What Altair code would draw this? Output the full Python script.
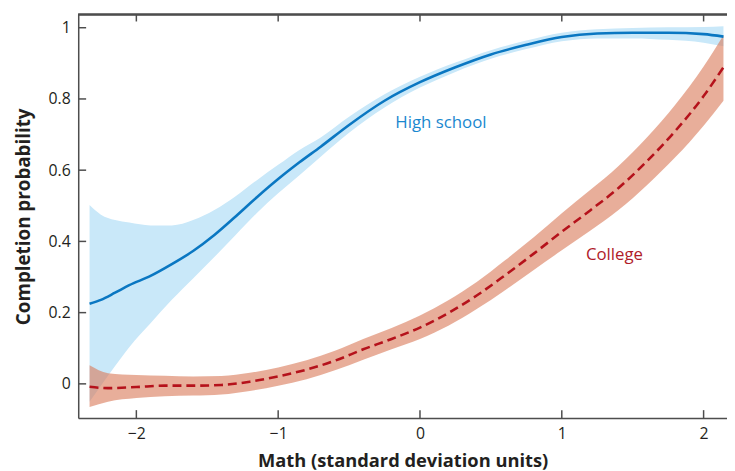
import altair as alt
import pandas as pd

# ---- data ----
hs_x = [-2.33, -2.25, -2.15, -2.05, -1.9, -1.75, -1.6, -1.45, -1.3, -1.15, -1.0, -0.85,
        -0.7, -0.5, -0.25, 0.0, 0.25, 0.5, 0.75, 1.0, 1.25, 1.5, 1.75, 2.0, 2.14]
hs_mid = [0.225, 0.236, 0.256, 0.277, 0.303, 0.336, 0.373, 0.418, 0.470, 0.524, 0.575, 0.622,
          0.666, 0.727, 0.795, 0.847, 0.889, 0.925, 0.952, 0.974, 0.984, 0.986, 0.986, 0.982, 0.975]
hs_hi = [0.502, 0.475, 0.460, 0.453, 0.445, 0.445, 0.460, 0.488, 0.527, 0.572, 0.615, 0.657,
         0.692, 0.750, 0.813, 0.862, 0.902, 0.937, 0.964, 0.986, 0.996, 0.999, 1.001, 1.002, 1.004]
hs_lo = [-0.050, -0.005, 0.050, 0.103, 0.170, 0.236, 0.296, 0.356, 0.418, 0.480, 0.535, 0.586,
         0.638, 0.705, 0.776, 0.832, 0.876, 0.913, 0.940, 0.962, 0.970, 0.970, 0.966, 0.958, 0.948]

col_x = [-2.33, -2.2, -2.0, -1.8, -1.6, -1.4, -1.2, -1.0, -0.8, -0.6, -0.4, -0.2, 0.0,
         0.2, 0.4, 0.6, 0.8, 1.0, 1.2, 1.4, 1.6, 1.8, 2.0, 2.14]
col_mid = [-0.008, -0.012, -0.009, -0.005, -0.005, -0.003, 0.006, 0.021, 0.040, 0.065, 0.097, 0.126,
           0.158, 0.199, 0.248, 0.305, 0.365, 0.427, 0.487, 0.550, 0.625, 0.710, 0.808, 0.889]
col_hi = [0.052, 0.030, 0.025, 0.023, 0.021, 0.022, 0.031, 0.046, 0.066, 0.093, 0.126, 0.157,
          0.192, 0.235, 0.286, 0.347, 0.411, 0.479, 0.544, 0.612, 0.692, 0.784, 0.891, 0.979]
col_lo = [-0.065, -0.050, -0.040, -0.035, -0.033, -0.030, -0.020, -0.005, 0.013, 0.038, 0.068, 0.097,
          0.126, 0.163, 0.210, 0.263, 0.319, 0.375, 0.430, 0.488, 0.558, 0.636, 0.725, 0.795]

x_ticks = [-2, -1, 0, 1, 2]
y_ticks = [0, 0.2, 0.4, 0.6, 0.8, 1]
labels = ["High school", "College"]
label_x = [-0.174, 1.17]
label_y = [0.733, 0.361]
label_colors = ["#1a88cf", "#b01c2a"]

X_DOMAIN = [-2.41, 2.165]
Y_DOMAIN = [-0.096, 1.037]
W, H = 656, 408
AXIS_COLOR = "#4d4d4d"
TEXT_COLOR = "#231f20"
FONT = "Open Sans"

hs = pd.DataFrame({"x": hs_x, "mid": hs_mid, "lo": hs_lo, "hi": hs_hi})
col = pd.DataFrame({"x": col_x, "mid": col_mid, "lo": col_lo, "hi": col_hi})
lab = pd.DataFrame({"x": label_x, "y": label_y, "t": labels, "c": label_colors})
xt = pd.DataFrame({"v": x_ticks})
yt = pd.DataFrame({"v": y_ticks})

xs = alt.Scale(domain=X_DOMAIN, nice=False, zero=False)
ys = alt.Scale(domain=Y_DOMAIN, nice=False, zero=False)

x_axis = alt.Axis(values=x_ticks, ticks=False, grid=False, domainColor=AXIS_COLOR, domainWidth=1.5,
                  labelFont=FONT, labelFontSize=16, labelColor=TEXT_COLOR, labelPadding=8,
                  title="Math (standard deviation units)", titleFont=FONT, titleFontSize=18.5,
                  titleFontWeight="bold", titleColor=TEXT_COLOR, titlePadding=10,
                  format="~g", labelExpr="replace(datum.label, '-', '\u2212')")
y_axis = alt.Axis(values=y_ticks, ticks=False, grid=False, domainColor=AXIS_COLOR, domainWidth=1.5,
                  labelFont=FONT, labelFontSize=16, labelColor=TEXT_COLOR, labelPadding=8,
                  title="Completion probability", titleFont=FONT, titleFontSize=19,
                  titleFontWeight="bold", titleColor=TEXT_COLOR, titlePadding=15, format="~g")

hs_band = alt.Chart(hs).mark_area(color="#c9e8f9", opacity=1, interpolate="monotone").encode(
    x=alt.X("x:Q", scale=xs, axis=x_axis),
    y=alt.Y("lo:Q", scale=ys, axis=y_axis),
    y2="hi:Q",
)
col_band = alt.Chart(col).mark_area(color="#da7c5c", opacity=0.62, interpolate="monotone").encode(
    x=alt.X("x:Q", scale=xs), y=alt.Y("lo:Q", scale=ys), y2="hi:Q"
)
hs_line = alt.Chart(hs).mark_line(color="#0a77c2", strokeWidth=2.6, interpolate="monotone").encode(
    x=alt.X("x:Q", scale=xs), y=alt.Y("mid:Q", scale=ys)
)
col_line = alt.Chart(col).mark_line(color="#b5121b", strokeWidth=2.6, strokeDash=[9, 5],
                                    interpolate="monotone").encode(
    x=alt.X("x:Q", scale=xs), y=alt.Y("mid:Q", scale=ys)
)
texts = alt.Chart(lab).mark_text(align="left", baseline="middle", font=FONT, fontSize=17).encode(
    x=alt.X("x:Q", scale=xs), y=alt.Y("y:Q", scale=ys), text="t:N",
    color=alt.Color("c:N", scale=None),
)

tick_bottom = alt.Chart(xt).mark_rule(color=AXIS_COLOR, strokeWidth=1.5).encode(
    x=alt.X("v:Q", scale=xs), y=alt.value(H), y2=alt.value(H - 8)
)
tick_top = alt.Chart(xt).mark_rule(color=AXIS_COLOR, strokeWidth=1.5).encode(
    x=alt.X("v:Q", scale=xs), y=alt.value(0), y2=alt.value(7)
)
tick_left = alt.Chart(yt).mark_rule(color=AXIS_COLOR, strokeWidth=1.5).encode(
    y=alt.Y("v:Q", scale=ys), x=alt.value(0), x2=alt.value(8)
)
top_border = alt.Chart(xt).mark_rule(color=AXIS_COLOR, strokeWidth=1.5).encode(
    x=alt.value(0), x2=alt.value(W), y=alt.value(0)
)

chart = alt.layer(
    hs_band, col_band, hs_line, col_line, texts, tick_bottom, tick_top, tick_left, top_border
).properties(
    width=W, height=H,
    autosize=alt.AutoSizeParams(type="none"),
    padding={"left": 71, "top": 4, "right": 0, "bottom": 58},
).configure_view(stroke=None).configure(background="white")

chart.save("out.html", embed_options={"renderer": "svg", "actions": False})
